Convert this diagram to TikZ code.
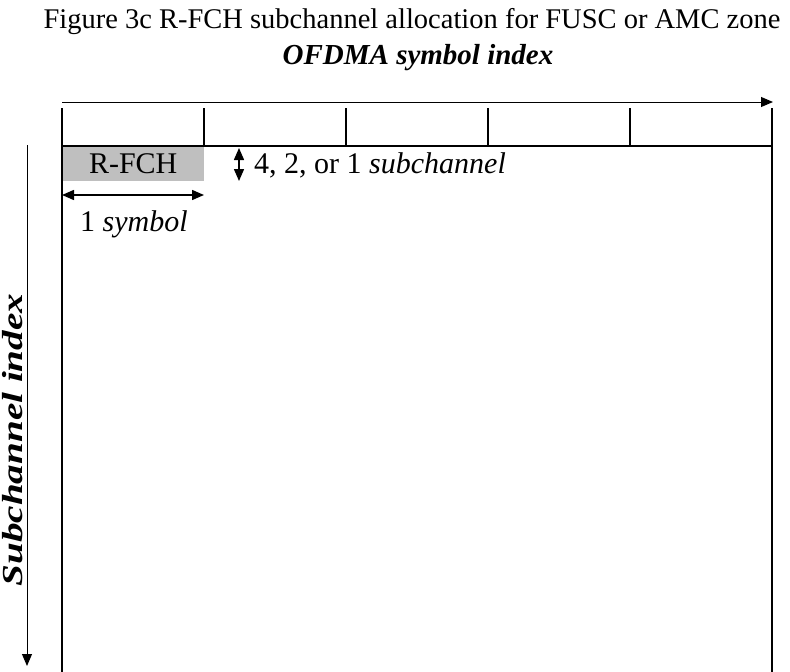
\documentclass[tikz,border=0pt]{standalone}
\usepackage{fontspec}
\setmainfont{Liberation Serif}
\usepackage{tikz}
\usetikzlibrary{positioning,arrows.meta,calc}

\begin{document}
\begin{tikzpicture}[
    x=1pt, y=-1pt,
    >={Triangle[length=12pt,width=10pt]},
    txt/.style={font=\fontsize{30}{33}\selectfont, inner sep=0pt},
    grid/.style={line width=2.8pt},
    axis/.style={line width=1pt, ->}
]
\useasboundingbox (0,0) rectangle (790,672);

% Title and symbol axis
\node[txt, font=\fontsize{28.5}{32}\selectfont] (title) at (412,22) {Figure 3c R-FCH subchannel allocation for FUSC or AMC zone};
\node[txt, font=\fontsize{29}{32}\selectfont\bfseries\itshape] (symidx) at (418,58) {OFDMA symbol index};
\coordinate (sA) at (62,102);
\coordinate (sB) at (773,102);
\draw[axis] (sA) -- (sB);

% Subchannel axis
\coordinate (cA) at (27,145);
\coordinate (cB) at (27,666);
\draw[axis] (cA) -- (cB);
\node[txt, font=\fontsize{29}{32}\selectfont\bfseries\itshape, rotate=90] (subidx) at (13,440) {\scalebox{1.35}[1]{Subchannel index}};

% R-FCH block
\node[fill=black!25, minimum width=142pt, minimum height=34pt, inner sep=0pt, anchor=north west] (rfch) at (62,147) {};
\node[txt] at (rfch.center) {R-FCH};

% Frame with symbol ticks
\foreach \i in {0,...,5} {
    \coordinate (t\i) at (62+142*\i,108);
    \coordinate (b\i) at (62+142*\i,146);
}
\draw[grid] (b0) -- (b5);
\foreach \i in {1,...,4} \draw[grid] (t\i) -- (b\i);
\draw[grid] (t0) -- (62,672);
\draw[grid] (t5) -- (772,672);

% Dimension arrows
\coordinate (wA) at (62,195);
\coordinate (wB) at (204,195);
\draw[<->, line width=1.5pt] (wA) -- (wB);
\node[txt, anchor=west] (onesym) at (80,224) {1 \textit{symbol}};
\coordinate (hA) at (239,148);
\coordinate (hB) at (239,181);
\draw[<->, line width=1.5pt] (hA) -- (hB);
\node[txt, anchor=west] (nsub) at (254,165) {4, 2, or 1 \textit{subchannel}};
\end{tikzpicture}
\end{document}
